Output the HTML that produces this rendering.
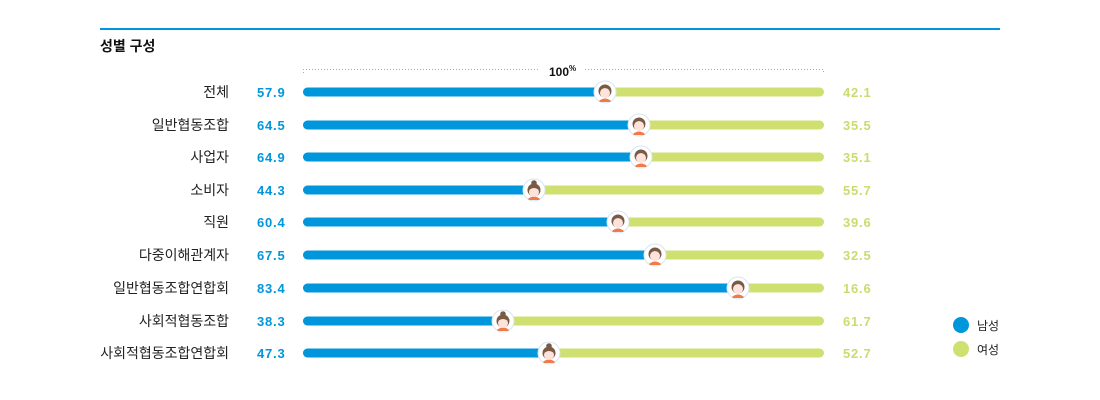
<!DOCTYPE html>
<html><head><meta charset="utf-8"><style>
body{margin:0;background:#fff;}
svg{display:block;font-family:"Liberation Sans","Noto Sans CJK KR",sans-serif;}
.lab{font-size:14px;fill:#222;text-anchor:end;}
.vb{font-size:13px;fill:#0096dc;font-weight:bold;letter-spacing:0.8px;}
.vg{font-size:13px;fill:#c9dc6e;font-weight:bold;letter-spacing:0.8px;}
</style></head><body>
<svg width="1100" height="400" viewBox="0 0 1100 400">
<defs>
<g id="m">
<circle r="11" fill="#fff" stroke="#d6e6f3" stroke-width="1"/>
<path d="M-6,9 Q0,4 6,9 L5,10 L-5,10Z" fill="#f07a48"/>
<circle cy="-1" r="6.5" fill="#7a5a44"/>
<ellipse cx="0" cy="1" rx="5" ry="5" fill="#fde3dc"/>
<path d="M-6,-1 Q-5,-7 0,-7 Q5,-7 6,-1 Q3,-4 0,-4 Q-3,-4 -6,-1Z" fill="#7a5a44"/>
</g>
<g id="f">
<circle r="11" fill="#fff" stroke="#d6e6f3" stroke-width="1"/>
<path d="M-6,9 Q0,4 6,9 L5,10 L-5,10Z" fill="#f07a48"/>
<circle cy="-7" r="2.8" fill="#7a5a44"/>
<circle cy="0" r="6.5" fill="#7a5a44"/>
<ellipse cx="0" cy="2" rx="5" ry="5" fill="#fde3dc"/>
<path d="M-6,1 Q-5,-5 0,-5 Q5,-5 6,1 Q3,-2 0,-2 Q-3,-2 -6,1Z" fill="#7a5a44"/>
</g>
</defs>
<rect x="100" y="28" width="900" height="2" fill="#0096dc"/>
<text x="100" y="51" style="font-size:14px;font-weight:bold;fill:#111">성별 구성</text>
<path d="M303.5,73 V69.5 H540 M585,69.5 H823.5 V73" fill="none" stroke="#7ab8dc" stroke-width="1" stroke-dasharray="1,2"/>
<text x="549" y="76" style="font-size:12px;font-weight:bold;fill:#111">100<tspan dy="-5" style="font-size:8px">%</tspan></text>
<g transform="translate(0,92)">
<text class="lab" x="229" y="5">전체</text><text class="vb" x="257" y="5">57.9</text>
<rect x="303" y="-4.5" width="521" height="9" rx="4.5" fill="#cfe071"/><rect x="303" y="-4.5" width="302" height="9" rx="4.5" fill="#0096dc"/>
<text class="vg" x="843" y="5">42.1</text><use href="#m" x="605"/></g>
<g transform="translate(0,125)">
<text class="lab" x="229" y="5">일반협동조합</text><text class="vb" x="257" y="5">64.5</text>
<rect x="303" y="-4.5" width="521" height="9" rx="4.5" fill="#cfe071"/><rect x="303" y="-4.5" width="336" height="9" rx="4.5" fill="#0096dc"/>
<text class="vg" x="843" y="5">35.5</text><use href="#m" x="639"/></g>
<g transform="translate(0,157)">
<text class="lab" x="229" y="5">사업자</text><text class="vb" x="257" y="5">64.9</text>
<rect x="303" y="-4.5" width="521" height="9" rx="4.5" fill="#cfe071"/><rect x="303" y="-4.5" width="338" height="9" rx="4.5" fill="#0096dc"/>
<text class="vg" x="843" y="5">35.1</text><use href="#m" x="641"/></g>
<g transform="translate(0,190)">
<text class="lab" x="229" y="5">소비자</text><text class="vb" x="257" y="5">44.3</text>
<rect x="303" y="-4.5" width="521" height="9" rx="4.5" fill="#cfe071"/><rect x="303" y="-4.5" width="231" height="9" rx="4.5" fill="#0096dc"/>
<text class="vg" x="843" y="5">55.7</text><use href="#f" x="534"/></g>
<g transform="translate(0,222)">
<text class="lab" x="229" y="5">직원</text><text class="vb" x="257" y="5">60.4</text>
<rect x="303" y="-4.5" width="521" height="9" rx="4.5" fill="#cfe071"/><rect x="303" y="-4.5" width="315" height="9" rx="4.5" fill="#0096dc"/>
<text class="vg" x="843" y="5">39.6</text><use href="#m" x="618"/></g>
<g transform="translate(0,255)">
<text class="lab" x="229" y="5">다중이해관계자</text><text class="vb" x="257" y="5">67.5</text>
<rect x="303" y="-4.5" width="521" height="9" rx="4.5" fill="#cfe071"/><rect x="303" y="-4.5" width="352" height="9" rx="4.5" fill="#0096dc"/>
<text class="vg" x="843" y="5">32.5</text><use href="#m" x="655"/></g>
<g transform="translate(0,288)">
<text class="lab" x="229" y="5">일반협동조합연합회</text><text class="vb" x="257" y="5">83.4</text>
<rect x="303" y="-4.5" width="521" height="9" rx="4.5" fill="#cfe071"/><rect x="303" y="-4.5" width="435" height="9" rx="4.5" fill="#0096dc"/>
<text class="vg" x="843" y="5">16.6</text><use href="#m" x="738"/></g>
<g transform="translate(0,321)">
<text class="lab" x="229" y="5">사회적협동조합</text><text class="vb" x="257" y="5">38.3</text>
<rect x="303" y="-4.5" width="521" height="9" rx="4.5" fill="#cfe071"/><rect x="303" y="-4.5" width="200" height="9" rx="4.5" fill="#0096dc"/>
<text class="vg" x="843" y="5">61.7</text><use href="#f" x="503"/></g>
<g transform="translate(0,353)">
<text class="lab" x="229" y="5">사회적협동조합연합회</text><text class="vb" x="257" y="5">47.3</text>
<rect x="303" y="-4.5" width="521" height="9" rx="4.5" fill="#cfe071"/><rect x="303" y="-4.5" width="246" height="9" rx="4.5" fill="#0096dc"/>
<text class="vg" x="843" y="5">52.7</text><use href="#f" x="549"/></g>
<circle cx="961" cy="325" r="8" fill="#0096dc"/>
<text x="977" y="330" style="font-size:12px;fill:#222">남성</text>
<circle cx="961" cy="349" r="8" fill="#cfe071"/>
<text x="977" y="354" style="font-size:12px;fill:#222">여성</text>
</svg>
</body></html>
